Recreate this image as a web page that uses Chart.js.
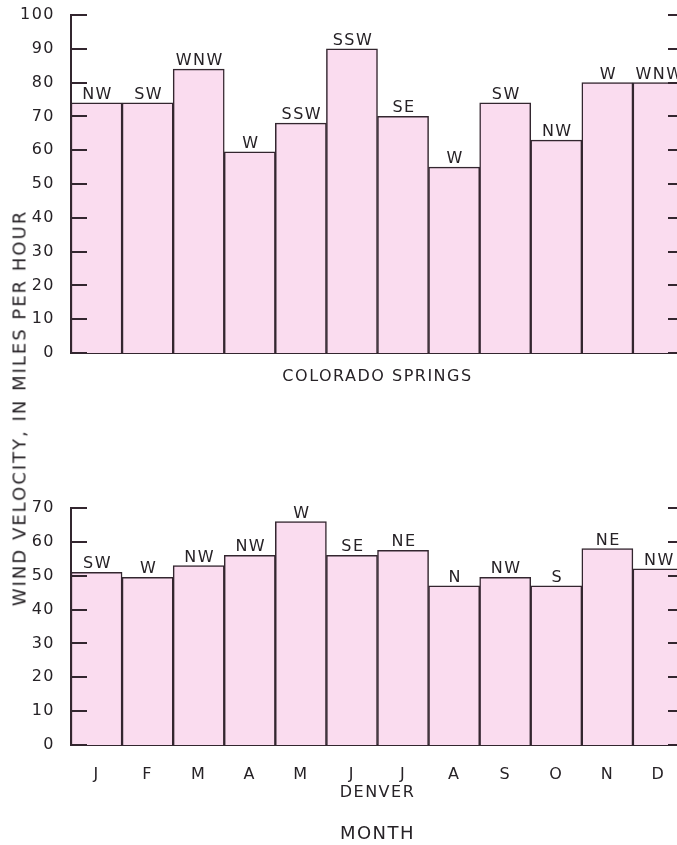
<!DOCTYPE html>
<html>
<head>
<meta charset="utf-8">
<title>Peak wind velocity by month</title>
<script src="https://cdn.jsdelivr.net/npm/chart.js@4.4.1/dist/chart.umd.min.js"></script>
<style>
  html, body {
    margin: 0;
    padding: 0;
    width: 677px;
    height: 845px;
    overflow: hidden;
    background: #fff;
    position: relative;
  }
  canvas {
    position: absolute;
    left: 0;
  }
  #springs { top: 0; }
  #denver { top: 470px; }
  #yTitle {
    position: absolute;
    left: 19px;
    top: 408px;
    transform: translate(-50%, -50%) rotate(-90deg);
    white-space: nowrap;
    font: 18px "DejaVu Sans", sans-serif;
    letter-spacing: 2px;
    color: #262226;
  }
</style>
</head>
<body>
<canvas id="springs" width="700" height="400"></canvas>
<canvas id="denver" width="700" height="375"></canvas>
<div id="yTitle">WIND VELOCITY, IN MILES PER HOUR</div>

<script>
const months = ["J", "F", "M", "A", "M", "J", "J", "A", "S", "O", "N", "D"];

// Colorado Springs: peak speed (mph) and direction for each month
const springsSpeed = [74, 74, 84, 59.5, 68, 90, 70, 55, 74, 63, 80, 80];
const springsDir = ["NW", "SW", "WNW", "W", "SSW", "SSW", "SE", "W", "SW", "NW", "W", "WNW"];

// Denver: peak speed (mph) and direction for each month
const denverSpeed = [51, 49.5, 53, 56, 66, 56, 57.5, 47, 49.5, 47, 58, 52];
const denverDir = ["SW", "W", "NW", "NW", "W", "SE", "NE", "N", "NW", "S", "NE", "NW"];

const ink = "#33262f";
const textInk = "#262226";
const barFill = "#fadcef";
const family = "'DejaVu Sans', sans-serif";

Chart.defaults.font.family = family;
Chart.defaults.color = textInk;

// slightly spread lettering for the axis text
const spacing = {
  id: "spacing",
  beforeDraw(chart) {
    chart.ctx.letterSpacing = "1.5px";
  },
};

// tick marks point into the plot, on both sides
const inwardTicks = {
  id: "inwardTicks",
  afterDatasetsDraw(chart) {
    const { ctx, chartArea: a, scales: { y } } = chart;
    ctx.save();
    ctx.strokeStyle = ink;
    ctx.lineWidth = 2;
    y.ticks.forEach((t) => {
      const py = Math.round(y.getPixelForValue(t.value));
      ctx.beginPath();
      ctx.moveTo(a.left, py);
      ctx.lineTo(a.left + 16, py);
      ctx.moveTo(a.right - 16, py);
      ctx.lineTo(a.right, py);
      ctx.stroke();
    });
    ctx.restore();
  },
};

// wind direction written over each bar
const directionLabels = {
  id: "directionLabels",
  afterDatasetsDraw(chart, args, opts) {
    const { ctx } = chart;
    const meta = chart.getDatasetMeta(0);
    ctx.save();
    ctx.font = "16px " + family;
    ctx.letterSpacing = "1.5px";
    ctx.fillStyle = textInk;
    ctx.textAlign = "center";
    ctx.textBaseline = "alphabetic";
    meta.data.forEach((bar, i) => {
      ctx.fillText(opts.labels[i], bar.x + 1, bar.y - 4);
    });
    ctx.restore();
  },
};

function windChart(id, speeds, dirs, cfg) {
  return new Chart(document.getElementById(id), {
    type: "bar",
    data: {
      labels: months,
      datasets: [
        {
          data: speeds,
          backgroundColor: barFill,
          borderColor: ink,
          borderWidth: 1.5,
          categoryPercentage: 1,
          barPercentage: 1,
        },
      ],
    },
    options: {
      responsive: false,
      animation: false,
      devicePixelRatio: 1,
      layout: { padding: { top: cfg.padTop, right: 16, left: 0, bottom: 0 } },
      plugins: {
        legend: { display: false },
        tooltip: { enabled: false },
        title: cfg.footer,
        directionLabels: { labels: dirs },
      },
      scales: {
        x: {
          grid: { display: false },
          border: { display: true, color: ink, width: 2 },
          ticks: {
            display: cfg.showMonths,
            padding: 12,
            font: { size: 16 },
            color: textInk,
          },
          title: {
            display: true,
            text: cfg.place,
            font: { size: 16 },
            color: textInk,
            padding: { top: 0, bottom: cfg.placePad },
          },
          afterFit(scale) {
            scale.height = cfg.xHeight;
          },
        },
        y: {
          min: 0,
          max: cfg.maxY,
          grid: { display: false },
          border: { display: true, color: ink, width: 2 },
          ticks: {
            stepSize: 10,
            padding: 8,
            font: { size: 16 },
            color: textInk,
          },
          afterFit(scale) {
            scale.width = 71;
            scale.paddingTop = 0;
            scale.paddingBottom = 0;
          },
        },
      },
    },
    plugins: [spacing, inwardTicks, directionLabels],
  });
}

windChart("springs", springsSpeed, springsDir, {
  padTop: 15,
  maxY: 100,
  place: "COLORADO SPRINGS",
  placePad: 14,
  xHeight: 47,
  showMonths: false,
  footer: { display: false },
});

windChart("denver", denverSpeed, denverDir, {
  padTop: 38,
  maxY: 70,
  place: "DENVER",
  placePad: 21,
  xHeight: 78.4,
  showMonths: true,
  footer: {
    display: true,
    position: "bottom",
    fullSize: false,
    text: "MONTH",
    color: textInk,
    font: { size: 18, weight: "normal" },
    padding: { top: 0, bottom: 0 },
  },
});
</script>
</body>
</html>
